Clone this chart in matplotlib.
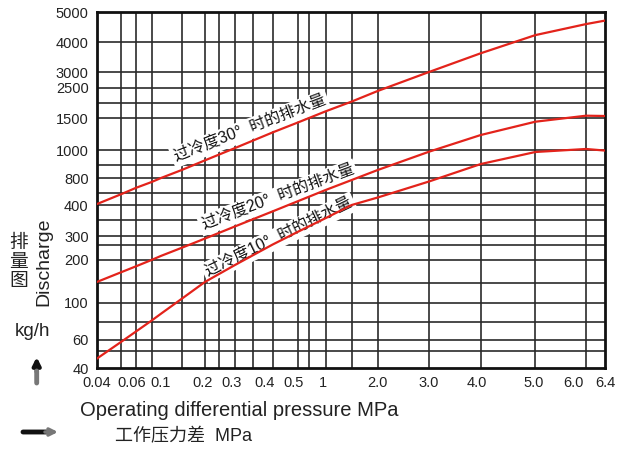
import numpy as np
import matplotlib
matplotlib.use("Agg")
import matplotlib.pyplot as plt
from matplotlib.transforms import ScaledTranslation

plt.rcParams['font.family'] = ['Liberation Sans', 'Noto Sans CJK SC', 'DejaVu Sans']

# ---- data ----
pressure = [0.04, 0.05, 0.06, 0.08, 0.1, 0.15, 0.2, 0.3, 0.4, 0.5,
            1, 1.5, 2, 3, 4, 5, 6, 6.4]
flow_30 = [413, 570, 660, 740, 800, 860, 930, 1025, 1250, 1420,
           1710, 2050, 2380, 3000, 3590, 4210, 4570, 4690]
flow_20 = [152, 171, 184, 199, 211, 238, 284, 329, 378, 456,
           633, 769, 860, 988, 1209, 1431, 1569, 1560]
flow_10 = [45.3, 57.7, 68.3, 81.1, 87.8, 108, 152, 187, 250, 313,
           356, 400, 512, 747, 906, 986, 1013, 996]

x_ticks = [0.04, 0.06, 0.1, 0.2, 0.3, 0.4, 0.5, 1, 2, 3, 4, 5, 6, 6.4]
x_tick_labels = ['0.04', '0.06', '0.1', '0.2', '0.3', '0.4', '0.5', '1',
                 '2.0', '3.0', '4.0', '5.0', '6.0', '6.4']
x_grid = [0.05, 0.06, 0.08, 0.15, 0.2, 0.25, 0.3, 0.35, 0.4, 0.5, 0.7,
          1, 1.5, 2, 3, 4, 5, 6]

y_ticks = [40, 60, 100, 200, 300, 400, 800, 1000, 1500, 2500, 3000, 4000, 5000]
y_grid = [50, 60, 80, 100, 150, 200, 250, 300, 350, 400, 600, 800, 900,
          1000, 1500, 2000, 2500, 3000, 4000]

curve_labels = ['过冷度30°  时的排水量', '过冷度20°  时的排水量', '过冷度10°  时的排水量']

# ---- the chart's hand-drawn, uneven axis: value -> pixel anchors ----
x_anchor_val = [0.04, 0.05, 0.06, 0.08, 0.1, 0.15, 0.2, 0.25, 0.3, 0.35, 0.4,
                0.5, 0.7, 1, 1.5, 2, 3, 4, 5, 6, 6.4]
x_anchor_px = [97, 121, 136, 151.7, 161, 181.7, 205, 219.3, 235, 252.7, 272.7,
               298.3, 309, 325.7, 351.7, 377.7, 429, 480.7, 535.3, 586, 605]
y_anchor_val = [40, 50, 60, 80, 100, 150, 200, 250, 300, 350, 400, 600, 800,
                900, 1000, 1500, 2000, 2500, 3000, 4000, 5000]
y_anchor_px = [368, 351, 339.5, 321.7, 302.5, 283, 259.5, 244.5, 236, 220, 205,
               192.7, 178, 165, 150, 118, 103.3, 87.5, 72, 42, 12]

lx = np.log(x_anchor_val)
px = np.array(x_anchor_px)
ly = np.log(y_anchor_val)
py = -np.array(y_anchor_px)


def fwd_x(v):
    return np.interp(np.log(np.clip(v, 1e-6, None)), lx, px)


def inv_x(p):
    return np.exp(np.interp(p, px, lx))


def fwd_y(v):
    return np.interp(np.log(np.clip(v, 1e-6, None)), ly, py)


def inv_y(p):
    return np.exp(np.interp(p, py, ly))


W, H = 621, 451
fig = plt.figure(figsize=(W / 100, H / 100), dpi=100)
ax = fig.add_axes([97 / W, 1 - 368 / H, 508 / W, 356 / H])
ax.set_xscale('function', functions=(fwd_x, inv_x))
ax.set_yscale('function', functions=(fwd_y, inv_y))
ax.set_xlim(0.04, 6.4)
ax.set_ylim(40, 5000)

# grid lines share places with the labelled ticks, keep both
ax.xaxis.remove_overlapping_locs = False
ax.yaxis.remove_overlapping_locs = False
ax.set_xticks(x_ticks)
ax.set_xticklabels(x_tick_labels)
ax.set_xticks(x_grid, minor=True)
ax.set_yticks(y_ticks)
ax.set_yticklabels([str(v) for v in y_ticks])
ax.set_yticks(y_grid, minor=True)
ax.tick_params(which='both', length=0)
ax.tick_params(axis='x', pad=6, labelsize=10.5, colors='#222222')
ax.tick_params(axis='y', pad=6, labelsize=10.5, colors='#222222')
ax.grid(which='minor', color='#2a2a2a', lw=1.2)
ax.grid(which='major', visible=False)
ax.set_axisbelow(True)
for s in ax.spines.values():
    s.set_linewidth(2)
    s.set_color('#111111')

# labels under the axis are drawn a little left of their grid lines
x_label_nudge = [0, -4, 0, -2, -3, -8, -5, -3, 0, 0, -4, -2, -13, 0]
for lab, dx in zip(ax.get_xticklabels(), x_label_nudge):
    lab.set_transform(lab.get_transform() + ScaledTranslation(dx / 100, 0, fig.dpi_scale_trans))

red = '#e3231b'
for flow in [flow_30, flow_20, flow_10]:
    ax.plot(pressure, flow, color=red, lw=1.6, zorder=4)

# curve captions (axes fraction centre, angle)
cap_pos = [(0.301, 0.672, 21), (0.356, 0.479, 20.5), (0.358, 0.367, 26)]
for txt, (cx, cy, rot) in zip(curve_labels, cap_pos):
    ax.text(cx, cy, txt, transform=ax.transAxes, rotation=rot, rotation_mode='anchor',
            ha='center', va='center', fontsize=11.5, color='#111111', zorder=3,
            bbox=dict(boxstyle='square,pad=0.18', fc='white', ec='none'))

# axis titles
fig.text(80 / W, 1 - 410 / H, 'Operating differential pressure MPa', ha='left', va='center',
         fontsize=14.5, color='#222222')
fig.text(115 / W, 1 - 437 / H, '工作压力差  MPa', ha='left', va='center',
         fontsize=13, color='#222222')
fig.text(18.5 / W, 1 - 262 / H, '排\n量\n图', ha='center', va='center',
         fontsize=13.5, linespacing=1.15, color='#222222')
fig.text(44 / W, 1 - 262 / H, 'Discharge', ha='center', va='center', rotation=90,
         fontsize=14, color='#222222')
fig.text(32 / W, 1 - 332 / H, 'kg/h', ha='center', va='center', fontsize=13.5, color='#222222')

# small direction arrows at the left
ax.annotate('', xy=(36.7, H - 357), xytext=(36.7, H - 372), xycoords='figure pixels',
            arrowprops=dict(arrowstyle='-|>', lw=3, color='#111111', mutation_scale=11,
                            shrinkA=0, shrinkB=0))
ax.annotate('', xy=(36.7, H - 371), xytext=(36.7, H - 383), xycoords='figure pixels',
            arrowprops=dict(arrowstyle='-', lw=3.5, color='#777777', shrinkA=0, shrinkB=0))
ax.annotate('', xy=(46, H - 432), xytext=(23, H - 432), xycoords='figure pixels',
            arrowprops=dict(arrowstyle='-', lw=3.5, color='#111111', shrinkA=0, shrinkB=0))
ax.annotate('', xy=(58, H - 432), xytext=(45, H - 432), xycoords='figure pixels',
            arrowprops=dict(arrowstyle='-|>', lw=2.5, color='#777777', mutation_scale=11,
                            shrinkA=0, shrinkB=0))

fig.savefig('out.png', dpi=100)
